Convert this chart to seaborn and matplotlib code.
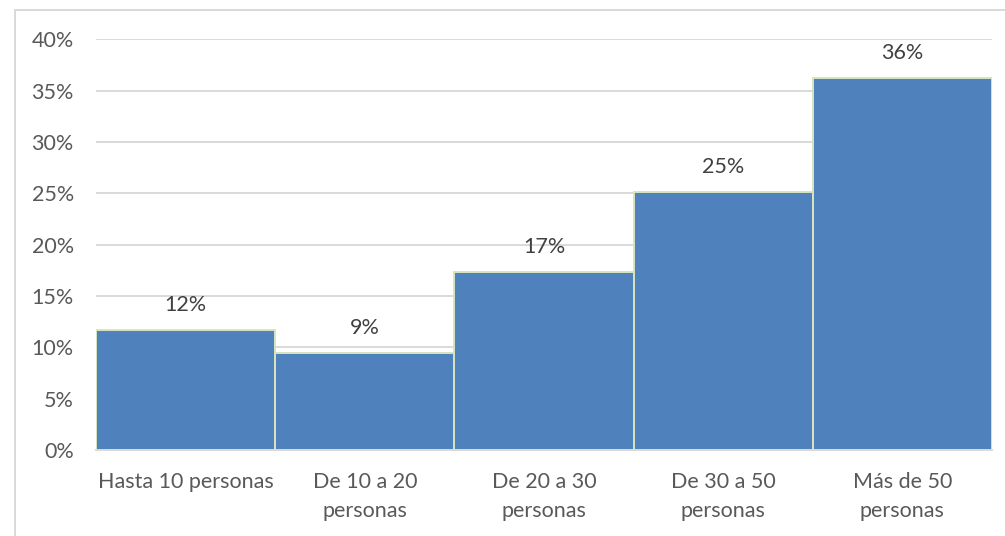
import matplotlib
matplotlib.use("Agg")
import matplotlib.pyplot as plt
from matplotlib.patches import Rectangle
from matplotlib.ticker import PercentFormatter
import seaborn as sns

# Team size categories and share of respondents
categories = [
    "Hasta 10 personas",
    "De 10 a 20\npersonas",
    "De 20 a 30\npersonas",
    "De 30 a 50\npersonas",
    "Más de 50\npersonas",
]
shares = [0.117, 0.094, 0.173, 0.251, 0.362]
y_ticks = [0.0, 0.05, 0.10, 0.15, 0.20, 0.25, 0.30, 0.35, 0.40]

sns.set_theme(style="white")
plt.rcParams["font.family"] = ["Lato", "DejaVu Sans"]

W, H, DPI = 1005, 536, 100
fig = plt.figure(figsize=(W / DPI, H / DPI), dpi=DPI)
ax = fig.add_axes([96 / W, (H - 450) / H, (992 - 96) / W, (450 - 39.3) / H])

sns.barplot(
    x=categories, y=shares, ax=ax, width=1.0, color="#4F81BD",
    saturation=1, edgecolor="#D7E4BD", linewidth=1.4, zorder=3,
)

ax.set_ylim(0, 0.40)
ax.set_xlim(-0.5, len(categories) - 0.5)
ax.set_yticks(y_ticks)
ax.yaxis.set_major_formatter(PercentFormatter(1.0, decimals=0))
ax.grid(axis="y", color="#D9D9D9", linewidth=1.4, zorder=0)
ax.grid(axis="x", visible=False)
for side in ["top", "right", "left"]:
    ax.spines[side].set_visible(False)
ax.spines["bottom"].set_color("#D9D9D9")
ax.spines["bottom"].set_linewidth(1.4)

ax.tick_params(axis="y", length=0, pad=16, labelsize=15.5, labelcolor="#595959")
ax.tick_params(axis="x", length=0, pad=16, labelsize=15.5, labelcolor="#595959")
for lbl in ax.get_xticklabels():
    lbl.set_linespacing(1.55)
ax.set_xlabel("")
ax.set_ylabel("")

# Value labels above each bar
ax.bar_label(
    ax.containers[0], labels=[f"{v:.0%}" for v in shares], padding=11,
    fontsize=15.5, color="#404040",
)

# Light chart-area frame
fig.patches.append(Rectangle(
    (15 / W, -0.05), 1.0, (H - 10) / H + 0.05, transform=fig.transFigure,
    fill=False, edgecolor="#D9D9D9", linewidth=1.4,
))

fig.savefig("out.png", dpi=DPI)
